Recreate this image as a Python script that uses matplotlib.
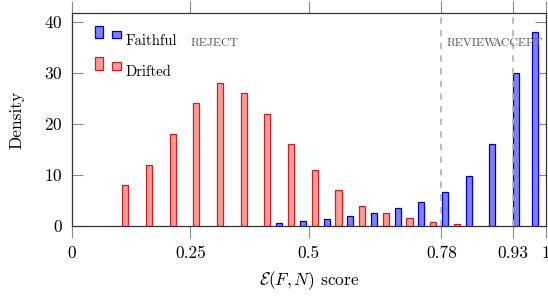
import matplotlib
matplotlib.use("Agg")
import matplotlib.pyplot as plt
from matplotlib.legend_handler import HandlerBase
from matplotlib.patches import Rectangle
from matplotlib.container import BarContainer

plt.rcParams['font.family'] = ['serif']
plt.rcParams['font.serif'] = ['cmr10', 'DejaVu Serif']
plt.rcParams['mathtext.fontset'] = 'cm'
plt.rcParams['axes.formatter.use_mathtext'] = True

# ---- data ----
faithful_bins = [0.45, 0.50, 0.55, 0.60, 0.65, 0.70, 0.75, 0.80, 0.85, 0.90, 0.95, 0.99]
faithful_vals = [0.5, 0.9, 1.3, 1.9, 2.6, 3.5, 4.7, 6.6, 9.8, 16, 30, 38]
drifted_bins = [0.10, 0.15, 0.20, 0.25, 0.30, 0.35, 0.40, 0.45, 0.50, 0.55, 0.60, 0.65, 0.70, 0.75, 0.80]
drifted_vals = [8, 12, 18, 24, 28, 26, 22, 16, 11, 7, 4, 2.6, 1.5, 0.7, 0.3]
thresholds = [0.78, 0.93]
xtick_vals = [0, 0.25, 0.5, 0.78, 0.93, 1]
xtick_labels = ['0', '0.25', '0.5', '0.78', '0.93', '1']
ytick_vals = [0, 10, 20, 30, 40]
zone_labels = ['REJECT', 'REVIEW', 'ACCEPT']
zone_x = [0.302, 0.843, 0.889]
zone_ha = ['center', 'center', 'left']

shift = 0.0125
bw = 0.013

fig = plt.figure(figsize=(5.48, 2.99), dpi=100)
ax = fig.add_axes([72/548, 1 - 226/299, (545.7 - 72)/548, (226 - 13)/299])

ax.bar([b - shift for b in faithful_bins], faithful_vals, width=bw,
       color='#8080ff', edgecolor='#0000cc', linewidth=0.9, label='Faithful', zorder=2)
ax.bar([b + shift for b in drifted_bins], drifted_vals, width=bw,
       color='#ff9a9a', edgecolor='#cc1f1f', linewidth=0.9, label='Drifted', zorder=2)

for t in thresholds:
    ax.axvline(t, color='#b8b8b8', linestyle=(0, (3.5, 3.5)), linewidth=1.3, zorder=3)

for lab, x, ha in zip(zone_labels, zone_x, zone_ha):
    ax.text(x, 35.8, lab, ha=ha, va='center', fontsize=8.5, color='#555555',
            clip_on=True, zorder=4)

ax.set_xlim(0, 1)
ax.set_ylim(0, 41.7)
ax.set_xticks(xtick_vals)
ax.set_xticklabels(xtick_labels)
ax.set_yticks(ytick_vals)
ax.tick_params(axis='x', direction='out', top=True, length=8.5, width=0.8,
               color='#8a8a8a', labelsize=12.5, pad=6)
ax.tick_params(axis='y', direction='in', right=True, length=8, width=0.8,
               color='#8a8a8a', labelsize=12.5, pad=6.5)
for s in ax.spines.values():
    s.set_color('#333333')
    s.set_linewidth(0.9)

ax.set_ylabel('Density', fontsize=12.5)
ax.yaxis.set_label_coords(-0.101, 0.5)
ax.set_xlabel(r'$\mathcal{E}(F,N)$ score', fontsize=12.5)
ax.xaxis.set_label_coords(0.5, -0.205)


class TwoBarHandler(HandlerBase):
    def create_artists(self, legend, orig_handle, xdescent, ydescent, width,
                       height, fontsize, trans):
        p = orig_handle.patches[0] if isinstance(orig_handle, BarContainer) else orig_handle
        fc, ec, lw = p.get_facecolor(), p.get_edgecolor(), p.get_linewidth()
        w = width * 0.32
        y0 = -ydescent + 0.6 * height
        h = height
        r1 = Rectangle((-xdescent, y0), w, h, facecolor=fc, edgecolor=ec, lw=lw, transform=trans)
        r2 = Rectangle((-xdescent + width - w, y0), w, h * 0.62, facecolor=fc, edgecolor=ec, lw=lw, transform=trans)
        return [r1, r2]


leg = ax.legend(loc='upper left', bbox_to_anchor=(0.0486, 0.904), frameon=False,
                fontsize=10.5, handlelength=1.75, handleheight=0.95, handletextpad=0.35,
                labelspacing=1.15, borderpad=0, borderaxespad=0,
                handler_map={BarContainer: TwoBarHandler()})

fig.savefig('out.png', dpi=100)
